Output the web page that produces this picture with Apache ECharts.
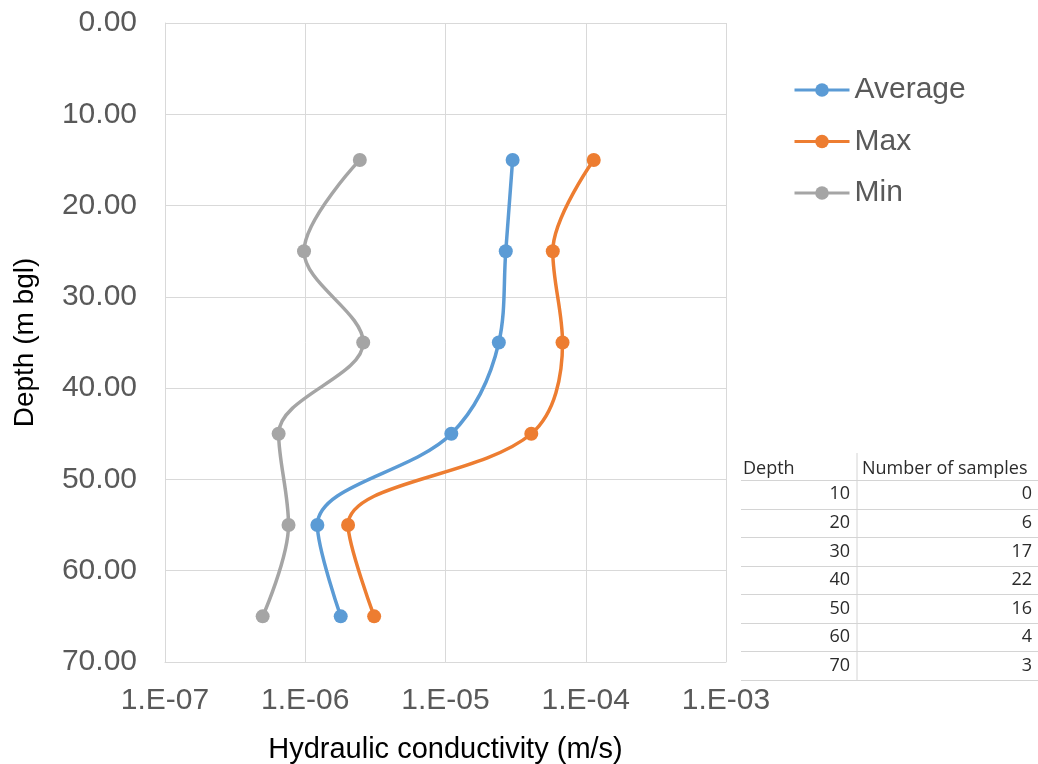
<!DOCTYPE html>
<html>
<head>
<meta charset="utf-8">
<script src="https://cdn.jsdelivr.net/npm/echarts@6/dist/echarts.min.js"></script>
<style>
  html, body { margin: 0; padding: 0; background: #fff; }
  #chart { width: 1038px; height: 764px; }
</style>
</head>
<body>
<div id="chart"></div>
<script>
// Sample depths (m bgl) for each measured interval
const depths = [15, 25, 35, 45, 55, 65];
// Hydraulic conductivity (m/s) per depth interval
const averageK = [3.01e-5, 2.69e-5, 2.40e-5, 1.10e-5, 1.22e-6, 1.79e-6];
const maxK     = [1.14e-4, 5.82e-5, 6.83e-5, 4.09e-5, 2.02e-6, 3.10e-6];
const minK     = [2.45e-6, 9.8e-7, 2.59e-6, 6.46e-7, 7.6e-7, 4.97e-7];

// Sample count table
const tableHeaders = ['Depth', 'Number of samples'];
const tableDepths = [10, 20, 30, 40, 50, 60, 70];
const sampleCounts = [0, 6, 17, 22, 16, 4, 3];

const seriesNames = ['Average', 'Max', 'Min'];
const seriesColors = ['#5B9BD5', '#ED7D31', '#A5A5A5'];

function pairs(values) {
  return values.map((v, i) => [v, depths[i]]);
}

function sciLabel(v) {
  const e = Math.round(Math.log10(v));
  const sign = e < 0 ? '-' : '+';
  const a = Math.abs(e);
  return '1.E' + sign + (a < 10 ? '0' + a : a);
}

// Table drawn as graphic elements
const tbl = { left: 741, right: 1038, sep: 857, headerY: 469, firstLine: 480, rowH: 28.57 };
const tableGraphics = [];
const tFont = '18px "Open Sans"';
const tColor = '#2b2b2b';
tableGraphics.push({
  type: 'text', x: 743, y: tbl.headerY,
  style: { text: tableHeaders[0], font: tFont, fill: tColor, verticalAlign: 'middle' }
});
tableGraphics.push({
  type: 'text', x: 862, y: tbl.headerY,
  style: { text: tableHeaders[1], font: tFont, fill: tColor, verticalAlign: 'middle' }
});
tableGraphics.push({
  type: 'line', shape: { x1: tbl.sep, y1: 453, x2: tbl.sep, y2: tbl.firstLine + tbl.rowH * tableDepths.length },
  style: { stroke: '#D4D4D4', lineWidth: 1 }
});
for (let i = 0; i <= tableDepths.length; i++) {
  const y = Math.round(tbl.firstLine + tbl.rowH * i) + 0.5;
  tableGraphics.push({
    type: 'line', shape: { x1: tbl.left, y1: y, x2: tbl.right, y2: y },
    style: { stroke: '#D4D4D4', lineWidth: 1 }
  });
}
tableDepths.forEach((d, i) => {
  const cy = tbl.firstLine + tbl.rowH * (i + 0.5);
  tableGraphics.push({
    type: 'text', x: 850, y: cy,
    style: { text: String(d), font: tFont, fill: tColor, align: 'right', verticalAlign: 'middle' }
  });
  tableGraphics.push({
    type: 'text', x: 1032, y: cy,
    style: { text: String(sampleCounts[i]), font: tFont, fill: tColor, align: 'right', verticalAlign: 'middle' }
  });
});

const chart = echarts.init(document.getElementById('chart'), null, { renderer: 'canvas' });

const option = {
  backgroundColor: '#ffffff',
  animation: false,
  color: seriesColors,
  textStyle: { fontFamily: 'Arial, "Liberation Sans", sans-serif' },
  grid: { left: 165, top: 23, width: 561, height: 639, containLabel: false, outerBoundsMode: 'none' },
  legend: {
    data: seriesNames,
    orient: 'vertical',
    left: 793,
    top: 75,
    padding: 0,
    itemWidth: 55,
    itemHeight: 17,
    itemGap: 21.5,
    lineStyle: { width: 3 },
    textStyle: { fontSize: 30, color: '#595959', lineHeight: 30, padding: [0, 0, 0, 0] }
  },
  xAxis: {
    type: 'log',
    logBase: 10,
    min: 1e-7,
    max: 1e-3,
    position: 'bottom',
    name: 'Hydraulic conductivity (m/s)',
    nameLocation: 'middle',
    nameGap: 73,
    nameTextStyle: { fontSize: 29, color: '#000000' },
    axisLine: { onZero: false, lineStyle: { color: '#D9D9D9', width: 1 } },
    axisTick: { show: false },
    axisLabel: { fontSize: 30, color: '#595959', margin: 24, formatter: sciLabel },
    splitLine: { show: true, lineStyle: { color: '#D9D9D9', width: 1 } }
  },
  yAxis: {
    type: 'value',
    inverse: true,
    min: 0,
    max: 70,
    interval: 10,
    name: 'Depth (m bgl)',
    nameLocation: 'middle',
    nameGap: 126,
    nameTextStyle: { fontSize: 28, color: '#000000' },
    axisLine: { show: true, lineStyle: { color: '#D9D9D9', width: 1 } },
    axisTick: { show: false },
    axisLabel: { fontSize: 30, color: '#595959', margin: 28, padding: [5, 0, 0, 0], formatter: v => v.toFixed(2) },
    splitLine: { show: true, lineStyle: { color: '#D9D9D9', width: 1 } }
  },
  series: [averageK, maxK, minK].map((vals, i) => ({
    name: seriesNames[i],
    type: 'line',
    data: pairs(vals),
    smooth: 0.35,
    symbol: 'circle',
    symbolSize: 14,
    lineStyle: { width: 3.5, color: seriesColors[i] },
    itemStyle: { color: seriesColors[i] }
  })),
  graphic: tableGraphics
};

chart.setOption(option);
</script>
</body>
</html>
